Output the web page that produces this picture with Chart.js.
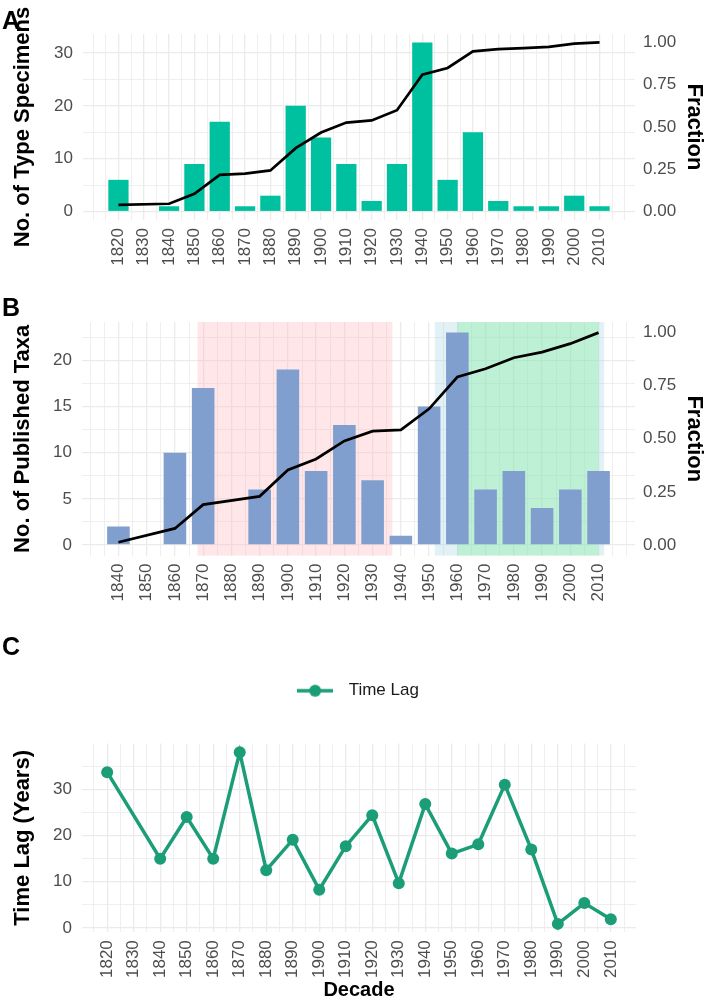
<!DOCTYPE html>
<html><head><meta charset="utf-8">
<script src="https://cdn.jsdelivr.net/npm/chart.js@4.4.1/dist/chart.umd.min.js"></script>
<style>
html,body{margin:0;padding:0;background:#fff;}
body{width:709px;height:1008px;position:relative;overflow:hidden;}
canvas{position:absolute;left:0;}
</style></head><body>
<canvas id="cA" width="709" height="290" style="top:0px"></canvas>
<canvas id="cB" width="709" height="320" style="top:290px"></canvas>
<canvas id="cC" width="709" height="398" style="top:610px"></canvas>
<script>
// ---------- DATA ----------
// Panel A: type specimens per decade + cumulative fraction
const decadesA = [1820,1840,1850,1860,1870,1880,1890,1900,1910,1920,1930,1940,1950,1960,1970,1980,1990,2000,2010];
const specimensA = [6,1,9,17,1,3,20,14,9,2,9,32,6,15,2,1,1,3,1];
const fractionA = [0.039,0.046,0.105,0.217,0.224,0.243,0.375,0.467,0.526,0.539,0.599,0.809,0.849,0.947,0.961,0.967,0.974,0.993,1.0];

// Panel B: published taxa per decade + cumulative fraction
const decadesB = [1840,1860,1870,1890,1900,1910,1920,1930,1940,1950,1960,1970,1980,1990,2000,2010];
const taxaB = [2,10,17,6,19,8,13,7,1,15,23,6,8,4,6,8];
const fractionB = [0.013,0.078,0.190,0.229,0.353,0.405,0.490,0.536,0.542,0.641,0.791,0.830,0.882,0.908,0.948,1.0];
// shaded periods in panel B (years)
const periodStartsB = [1868,1952,1960];
const periodEndsB = [1937,2012,2010];

// Panel C: time lag per decade
const decadesC = [1820,1840,1850,1860,1870,1880,1890,1900,1910,1920,1930,1940,1950,1960,1970,1980,1990,2000,2010];
const lagC = [33.7,15,24,15,38,12.5,19.1,8.3,17.7,24.4,9.7,26.8,16.1,18.1,31,17,0.9,5.4,1.9];

// tick labels
const xTickLabelsA = [1820,1830,1840,1850,1860,1870,1880,1890,1900,1910,1920,1930,1940,1950,1960,1970,1980,1990,2000,2010];
const xTickLabelsB = [1840,1850,1860,1870,1880,1890,1900,1910,1920,1930,1940,1950,1960,1970,1980,1990,2000,2010];
const xTickLabelsC = [1820,1830,1840,1850,1860,1870,1880,1890,1900,1910,1920,1930,1940,1950,1960,1970,1980,1990,2000,2010];
const yTickLabelsA = [0,10,20,30];
const yTickLabelsB = [0,5,10,15,20];
const yTickLabelsC = [0,10,20,30];
const fractionTickLabels = [0,0.25,0.5,0.75,1];

// ---------- STYLE ----------
const FONT = "'Liberation Sans', Arial, Helvetica, sans-serif";
const GRID = '#EBEBEB';
const TICK_COLOR = '#4D4D4D';
const TEAL = '#00C19F';
const BLUE = '#809FCF';
const GREEN = '#1B9E77';
const periodColorsB = ['rgba(255,182,193,0.35)','rgba(173,216,230,0.35)','rgba(106,238,139,0.30)'];

const pairs = (xs, ys) => xs.map((x, i) => ({x: x, y: ys[i]}));

function xScale(min, max, labels, height) {
  return {
    type: 'linear', position: 'bottom', min: min, max: max, offset: false,
    afterFit: s => { s.height = height; },
    grid: { color: GRID, drawTicks: false, offset: false,
      lineWidth: c => (c.tick && labels.includes(c.tick.value)) ? 1.3 : 0.8 },
    border: { display: false },
    ticks: { stepSize: 5, includeBounds: false, autoSkip: false, maxRotation: 90, minRotation: 90,
      padding: 8, color: TICK_COLOR, font: { family: FONT, size: 17 },
      callback: v => labels.includes(v) ? String(v) : '' }
  };
}
function yScale(min, max, step, labels, width) {
  return {
    type: 'linear', position: 'left', min: min, max: max,
    afterFit: s => { s.width = width; },
    grid: { color: GRID, drawTicks: false,
      lineWidth: c => (c.tick && labels.includes(c.tick.value)) ? 1.3 : 0.8 },
    border: { display: false },
    ticks: { stepSize: step, includeBounds: false, padding: 10, color: TICK_COLOR,
      font: { family: FONT, size: 17 },
      callback: v => labels.includes(v) ? String(v) : '' }
  };
}
function fractionScale() {
  return {
    type: 'linear', position: 'right', min: -0.05, max: 1.05,
    afterFit: s => { s.width = 74; },
    grid: { display: false, drawTicks: false },
    border: { display: false },
    ticks: { stepSize: 0.25, includeBounds: false, padding: 8, color: TICK_COLOR,
      font: { family: FONT, size: 17 },
      callback: v => fractionTickLabels.some(t => Math.abs(t - v) < 1e-9) ? v.toFixed(2) : '' },
    title: { display: true, text: 'Fraction', color: '#000',
      font: { family: FONT, size: 22, weight: 'bold' }, padding: { top: 2, bottom: 0 } }
  };
}

// panel letter + left axis title
const panelText = {
  id: 'panelText',
  afterDraw(chart, args, opts) {
    const ctx = chart.ctx, a = chart.chartArea;
    ctx.save();
    ctx.fillStyle = '#000';
    ctx.textBaseline = 'middle';
    ctx.textAlign = 'left';
    ctx.font = 'bold 25px ' + FONT;
    ctx.fillText(opts.letter, 2, opts.letterY);
    ctx.font = 'bold 22px ' + FONT;
    ctx.translate(opts.titleX, (a.top + a.bottom) / 2);
    ctx.rotate(-Math.PI / 2);
    ctx.textAlign = 'center';
    ctx.fillText(opts.yTitle, 0, 0);
    ctx.restore();
  }
};

// shaded periods
const periods = {
  id: 'periods',
  beforeDatasetsDraw(chart, args, opts) {
    if (!opts.starts) return;
    const ctx = chart.ctx, a = chart.chartArea, x = chart.scales.x;
    ctx.save();
    opts.starts.forEach((s, i) => {
      const x0 = x.getPixelForValue(s), x1 = x.getPixelForValue(opts.ends[i]);
      ctx.fillStyle = opts.colors[i];
      ctx.fillRect(x0, a.top, x1 - x0, a.bottom - a.top);
    });
    ctx.restore();
  }
};

// spacer between legend and plot in panel C
const spacer = {
  id: 'spacer',
  beforeInit(chart) {
    const box = {
      options: {}, position: 'top', weight: 500, fullSize: true,
      left: 0, top: 0, right: 0, bottom: 0, width: 0, height: 0,
      isHorizontal() { return true; },
      update(maxWidth) { this.width = maxWidth; this.height = 34.3; },
      draw() {}
    };
    Chart.layouts.addBox(chart, box);
  }
};

// ---------- PANEL A ----------
new Chart(document.getElementById('cA'), {
  type: 'bar',
  data: { datasets: [
    { type: 'line', label: 'Fraction', data: pairs(decadesA, fractionA), yAxisID: 'y2',
      borderColor: '#000', borderWidth: 2.7, pointRadius: 0, tension: 0, order: 1 },
    { type: 'bar', label: 'No. of Type Specimens', data: pairs(decadesA, specimensA), yAxisID: 'y',
      backgroundColor: TEAL, borderWidth: 0, categoryPercentage: 1, barPercentage: 1.6, order: 2 }
  ]},
  options: {
    responsive: false, animation: false, devicePixelRatio: 1,
    layout: { padding: { top: 34, left: 0, right: 0, bottom: 0 } },
    plugins: { legend: { display: false }, tooltip: { enabled: false },
      panelText: { letter: 'A', letterY: 22, titleX: 23, yTitle: 'No. of Type Specimens' } },
    scales: { x: xScale(1806, 2024, xTickLabelsA, 70), y: yScale(-1.6, 33.6, 5, yTickLabelsA, 83), y2: fractionScale() }
  },
  plugins: [panelText]
});

// ---------- PANEL B ----------
new Chart(document.getElementById('cB'), {
  type: 'bar',
  data: { datasets: [
    { type: 'line', label: 'Fraction', data: pairs(decadesB, fractionB), yAxisID: 'y2',
      borderColor: '#000', borderWidth: 2.7, pointRadius: 0, tension: 0, order: 1 },
    { type: 'bar', label: 'No. of Published Taxa', data: pairs(decadesB, taxaB), yAxisID: 'y',
      backgroundColor: BLUE, borderWidth: 0, categoryPercentage: 1, barPercentage: 1.6, order: 2 }
  ]},
  options: {
    responsive: false, animation: false, devicePixelRatio: 1,
    layout: { padding: { top: 32, left: 0, right: 0, bottom: 0 } },
    plugins: { legend: { display: false }, tooltip: { enabled: false },
      periods: { starts: periodStartsB, ends: periodEndsB, colors: periodColorsB },
      panelText: { letter: 'B', letterY: 19, titleX: 23, yTitle: 'No. of Published Taxa' } },
    scales: { x: xScale(1827.1, 2022.9, xTickLabelsB, 54.4), y: yScale(-1.15, 24.15, 2.5, yTickLabelsB, 82), y2: fractionScale() }
  },
  plugins: [periods, panelText]
});

// ---------- PANEL C ----------
const legendSymbol = document.createElement('canvas');
legendSymbol.width = 36; legendSymbol.height = 14;
(function () {
  const g = legendSymbol.getContext('2d');
  g.strokeStyle = GREEN; g.lineWidth = 3.5;
  g.beginPath(); g.moveTo(0, 7); g.lineTo(36, 7); g.stroke();
  g.fillStyle = GREEN; g.beginPath(); g.arc(18, 7, 6, 0, Math.PI * 2); g.fill();
})();

const xC = xScale(1810.5, 2019.5, xTickLabelsC, 75.8);
xC.title = { display: true, text: 'Decade', color: '#000', font: { family: FONT, size: 20, weight: 'bold' }, padding: { top: 0, bottom: 6 } };

new Chart(document.getElementById('cC'), {
  type: 'line',
  data: { datasets: [
    { label: 'Time Lag', data: pairs(decadesC, lagC), borderColor: GREEN, backgroundColor: GREEN,
      pointBackgroundColor: GREEN, borderWidth: 3.5, pointRadius: 6, pointHoverRadius: 6, pointBorderWidth: 0, tension: 0 }
  ]},
  options: {
    responsive: false, animation: false, devicePixelRatio: 1,
    layout: { padding: { top: 0, left: 0, right: 0, bottom: 0 } },
    plugins: {
      legend: { display: true, position: 'top',
        labels: { usePointStyle: true, pointStyle: legendSymbol, pointStyleWidth: 50, padding: 72.2,
          color: '#1a1a1a', font: { family: FONT, size: 17 } } },
      tooltip: { enabled: false },
      panelText: { letter: 'C', letterY: 38, titleX: 23, yTitle: 'Time Lag (Years)' } },
    scales: {
      x: xC,
      y: yScale(-0.9, 39.9, 5, yTickLabelsC, 82),
      yR: { position: 'right', display: true, grid: { display: false, drawTicks: false }, border: { display: false },
        ticks: { display: false }, afterFit: s => { s.width = 73; } }
    }
  },
  plugins: [spacer, panelText]
});
</script>
</body></html>
